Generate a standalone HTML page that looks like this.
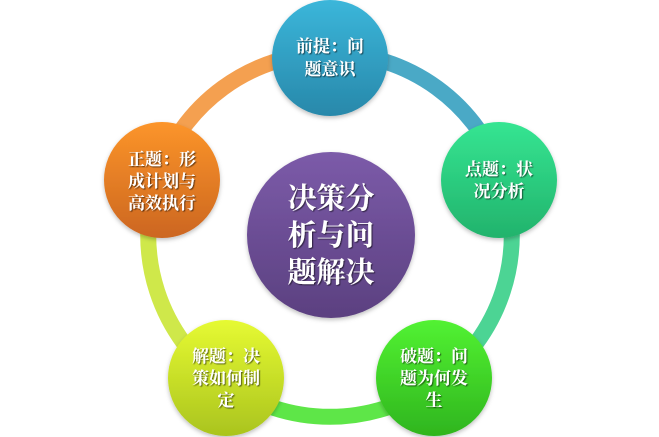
<!DOCTYPE html>
<html><head><meta charset="utf-8"><style>
html,body{margin:0;padding:0;background:#fff;width:659px;height:437px;overflow:hidden}
text{font-family:"Liberation Serif","Noto Serif CJK SC",serif;font-weight:bold;fill:#fff;text-anchor:middle}
</style></head><body>
<svg width="659" height="437" viewBox="0 0 659 437" xmlns="http://www.w3.org/2000/svg">
<defs>
<linearGradient id="gt" x1="0" y1="0" x2="0" y2="1"><stop offset="0" stop-color="#3bb6da"/><stop offset="1" stop-color="#2888aa"/></linearGradient>
<linearGradient id="gr" x1="0" y1="0" x2="0" y2="1"><stop offset="0" stop-color="#35e592"/><stop offset="1" stop-color="#22b36c"/></linearGradient>
<linearGradient id="gbr" x1="0" y1="0" x2="0" y2="1"><stop offset="0" stop-color="#52f232"/><stop offset="1" stop-color="#2fb51e"/></linearGradient>
<linearGradient id="gbl" x1="0" y1="0" x2="0" y2="1"><stop offset="0" stop-color="#e6fa32"/><stop offset="1" stop-color="#aac41e"/></linearGradient>
<linearGradient id="gl" x1="0" y1="0" x2="0" y2="1"><stop offset="0" stop-color="#fc952a"/><stop offset="1" stop-color="#cc6620"/></linearGradient>
<linearGradient id="gc" x1="0" y1="0" x2="0" y2="1"><stop offset="0" stop-color="#7c5ba9"/><stop offset="1" stop-color="#5b4080"/></linearGradient>
<filter id="sh" x="-20%" y="-20%" width="140%" height="140%"><feDropShadow dx="0" dy="2" stdDeviation="2" flood-color="#000" flood-opacity="0.25"/></filter>
<filter id="ts"><feDropShadow dx="1" dy="1" stdDeviation="0.6" flood-color="#000" flood-opacity="0.6"/></filter>
</defs>
<g fill="none" stroke-width="16">
<path d="M330 53 A182 182 0 0 1 503 179" stroke="#4aa9c6"/>
<path d="M503 179 A182 182 0 0 1 437 382" stroke="#4cd494"/>
<path d="M437 382 A182 182 0 0 1 223 382" stroke="#5ee648"/>
<path d="M223 382 A182 182 0 0 1 157 179" stroke="#cfe84a"/>
<path d="M157 179 A182 182 0 0 1 330 53" stroke="#f4a050"/>
</g>
<g filter="url(#sh)">
<ellipse cx="330" cy="58" rx="58" ry="58" fill="url(#gt)"/>
<ellipse cx="499" cy="180" rx="58" ry="58" fill="url(#gr)"/>
<ellipse cx="434" cy="378" rx="58" ry="58" fill="url(#gbr)"/>
<ellipse cx="226" cy="378" rx="58" ry="58" fill="url(#gbl)"/>
<ellipse cx="162" cy="180" rx="58" ry="58" fill="url(#gl)"/>
<ellipse cx="331" cy="235" rx="84" ry="83" fill="url(#gc)"/>
</g>
<g filter="url(#ts)" font-size="17">
<text x="330" y="52">前提：问</text><text x="330" y="75">题意识</text>
<text x="499" y="175">点题：状</text><text x="499" y="197">况分析</text>
<text x="434" y="362">破题：问</text><text x="434" y="384">题为何发</text><text x="434" y="406">生</text>
<text x="226" y="362">解题：决</text><text x="226" y="384">策如何制</text><text x="226" y="406">定</text>
<text x="162" y="165">正题：形</text><text x="162" y="187">成计划与</text><text x="162" y="209">高效执行</text>
</g>
<g filter="url(#ts)" font-size="29" style="font-weight:normal">
<text x="331" y="208">决策分</text><text x="331" y="245">析与问</text><text x="331" y="282">题解决</text>
</g>
</svg>
</body></html>
